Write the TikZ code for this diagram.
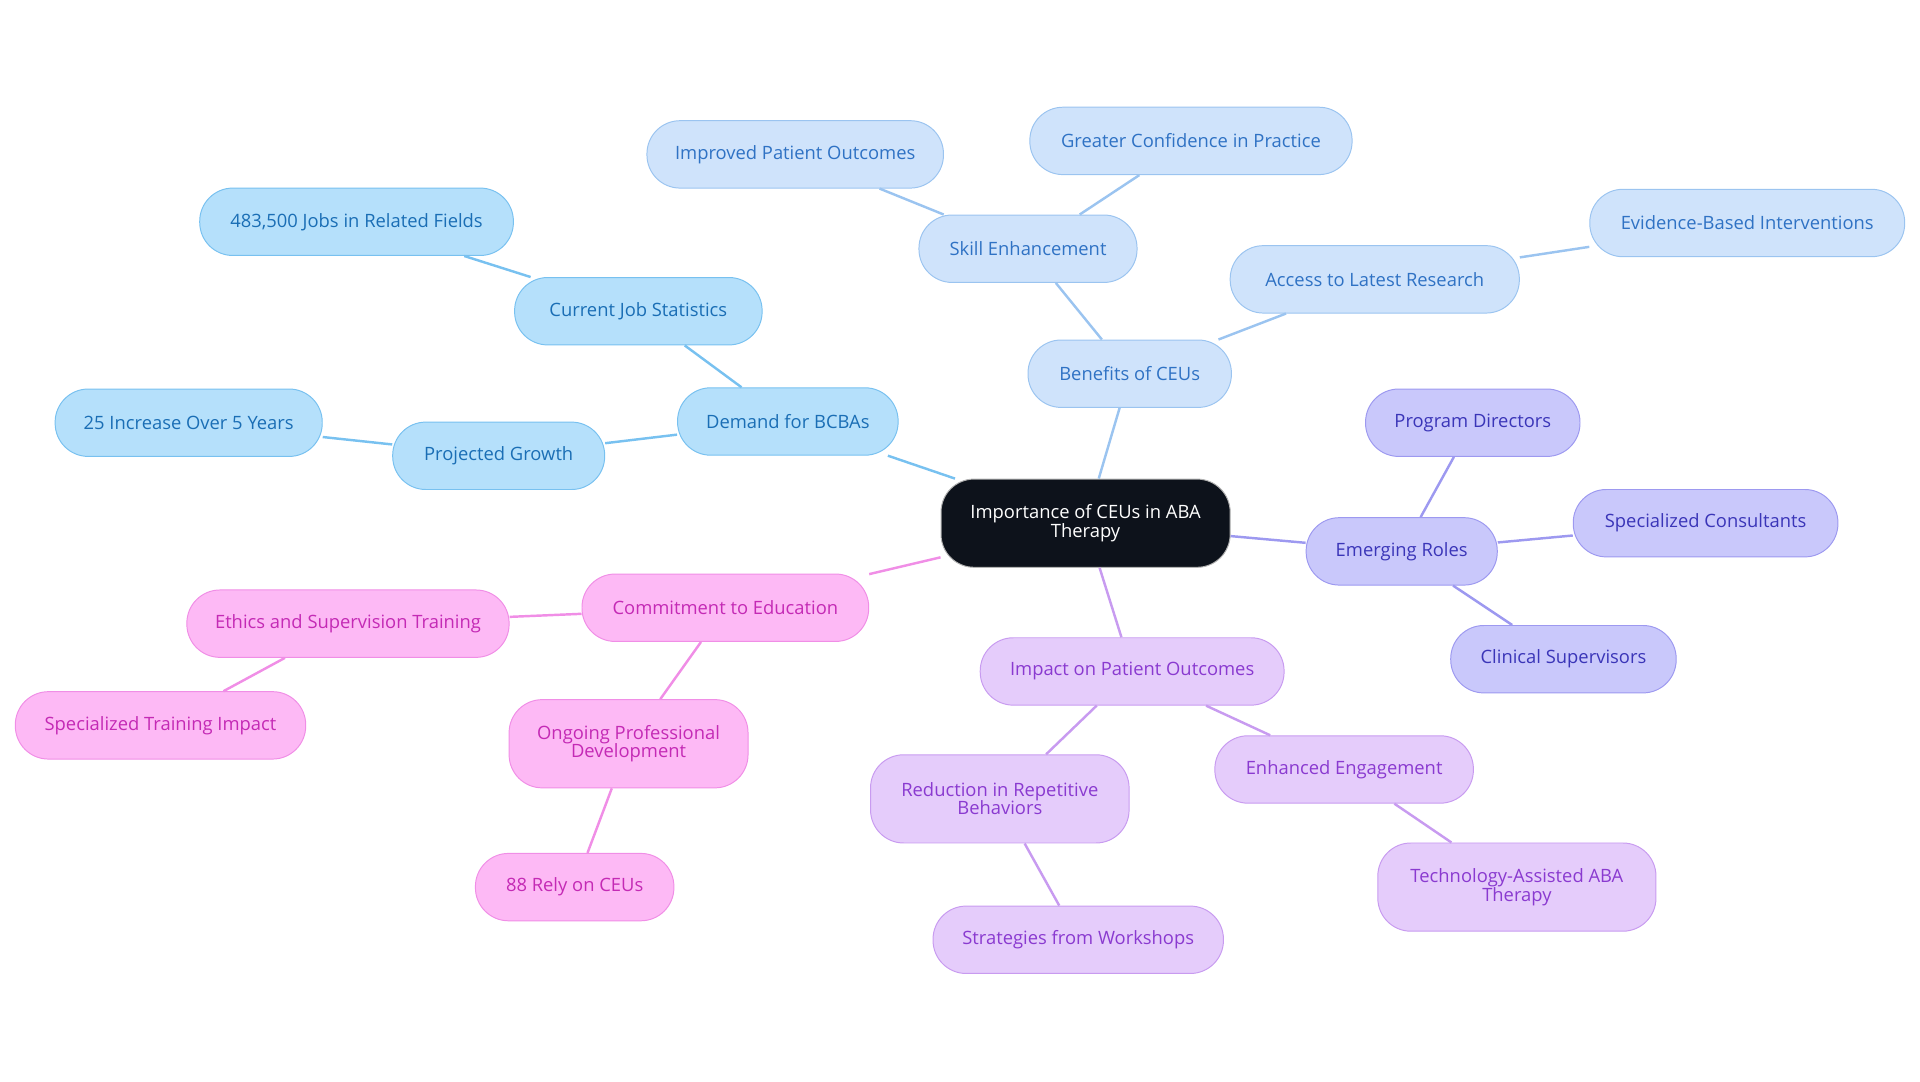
\documentclass[tikz,border=0pt]{standalone}
\usepackage{fontspec}
\setmainfont{Open Sans}
\definecolor{bA}{HTML}{B5E0FB}\definecolor{bAs}{HTML}{78C1F0}\definecolor{bAt}{HTML}{1A6EB5}
\definecolor{bB}{HTML}{CFE3FB}\definecolor{bBs}{HTML}{9BC4F0}\definecolor{bBt}{HTML}{2F72C4}
\definecolor{pA}{HTML}{C9C8FB}\definecolor{pAs}{HTML}{9D99F0}\definecolor{pAt}{HTML}{3A35B8}
\definecolor{vA}{HTML}{E5CCFB}\definecolor{vAs}{HTML}{C89BF0}\definecolor{vAt}{HTML}{8A3AD0}
\definecolor{kA}{HTML}{FDB9F5}\definecolor{kAs}{HTML}{F08EE6}\definecolor{kAt}{HTML}{C42AB5}
\definecolor{root}{HTML}{0D121B}
\begin{document}
\begin{tikzpicture}[x=1pt,y=-1pt,
 box/.style={rounded corners=27pt,minimum height=55pt,align=center,font=\fontsize{15}{15}\selectfont,line width=0.8pt,inner sep=0pt},
 gA/.style={box,fill=bA,draw=bAs,text=bAt},
 gB/.style={box,fill=bB,draw=bBs,text=bBt},
 gP/.style={box,fill=pA,draw=pAs,text=pAt},
 gV/.style={box,fill=vA,draw=vAs,text=vAt},
 gK/.style={box,fill=kA,draw=kAs,text=kAt},
 tall/.style={minimum height=72pt},
 eA/.style={draw=bAs,line width=2pt},
 eB/.style={draw=bBs,line width=2pt},
 eP/.style={draw=pAs,line width=2pt},
 eV/.style={draw=vAs,line width=2pt},
 eK/.style={draw=kAs,line width=2pt}]
\useasboundingbox (0,0) rectangle (1567,883);
\node[box,tall,fill=root,draw=gray!60,text=white,minimum width=236pt] (r) at (886,427) {Importance of CEUs in ABA\\Therapy};
\node[gA,minimum width=180pt] (d) at (643,344) {Demand for BCBAs};
\node[gA,minimum width=202pt] (cj) at (521,254) {Current Job Statistics};
\node[gA,minimum width=256pt] (j) at (291,181) {483,500 Jobs in Related Fields};
\node[gA,minimum width=173pt] (pg) at (407,372) {Projected Growth};
\node[gA,minimum width=218pt] (inc) at (154,345) {25 Increase Over 5 Years};
\node[gB,minimum width=166pt] (b) at (922,305) {Benefits of CEUs};
\node[gB,minimum width=178pt] (se) at (839,203) {Skill Enhancement};
\node[gB,minimum width=242pt] (ip) at (649,126) {Improved Patient Outcomes};
\node[gB,minimum width=263pt] (gc) at (972,115) {Greater Confidence in Practice};
\node[gB,minimum width=236pt] (al) at (1122,228) {Access to Latest Research};
\node[gB,minimum width=257pt] (eb) at (1426,182) {Evidence-Based Interventions};
\node[gP,minimum width=156pt] (er) at (1144,450) {Emerging Roles};
\node[gP,minimum width=175pt] (pd) at (1202,345) {Program Directors};
\node[gP,minimum width=216pt] (sc) at (1392,427) {Specialized Consultants};
\node[gP,minimum width=184pt] (cs) at (1276,538) {Clinical Supervisors};
\node[gV,minimum width=248pt] (im) at (924,548) {Impact on Patient Outcomes};
\node[gV,tall,minimum width=211pt] (rr) at (816,652) {Reduction in Repetitive\\Behaviors};
\node[gV,minimum width=237pt] (sw) at (880,767) {Strategies from Workshops};
\node[gV,minimum width=211pt] (ee) at (1097,628) {Enhanced Engagement};
\node[gV,tall,minimum width=227pt] (ta) at (1238,724) {Technology-Assisted ABA\\Therapy};
\node[gK,minimum width=234pt] (ce) at (592,496) {Commitment to Education};
\node[gK,minimum width=263pt] (es) at (284,509) {Ethics and Supervision Training};
\node[gK,minimum width=237pt] (st) at (131,592) {Specialized Training Impact};
\node[gK,tall,minimum width=195pt] (op) at (513,607) {Ongoing Professional\\Development};
\node[gK,minimum width=162pt] (rc) at (469,724) {88 Rely on CEUs};
\begin{scope}[on background layer/.style={}]
\end{scope}
\begin{pgfinterruptboundingbox}
\begin{scope}[every path/.style={}]
\end{scope}
\end{pgfinterruptboundingbox}
\draw[eA] (r) -- (d); \draw[eA] (d) -- (cj); \draw[eA] (cj) -- (j); \draw[eA] (d) -- (pg); \draw[eA] (pg) -- (inc);
\draw[eB] (r) -- (b); \draw[eB] (b) -- (se); \draw[eB] (se) -- (ip); \draw[eB] (se) -- (gc); \draw[eB] (b) -- (al); \draw[eB] (al) -- (eb);
\draw[eP] (r) -- (er); \draw[eP] (er) -- (pd); \draw[eP] (er) -- (sc); \draw[eP] (er) -- (cs);
\draw[eV] (r) -- (im); \draw[eV] (im) -- (rr); \draw[eV] (rr) -- (sw); \draw[eV] (im) -- (ee); \draw[eV] (ee) -- (ta);
\draw[eK] (r) -- (ce); \draw[eK] (ce) -- (es); \draw[eK] (es) -- (st); \draw[eK] (ce) -- (op); \draw[eK] (op) -- (rc);
\end{tikzpicture}
\end{document}
